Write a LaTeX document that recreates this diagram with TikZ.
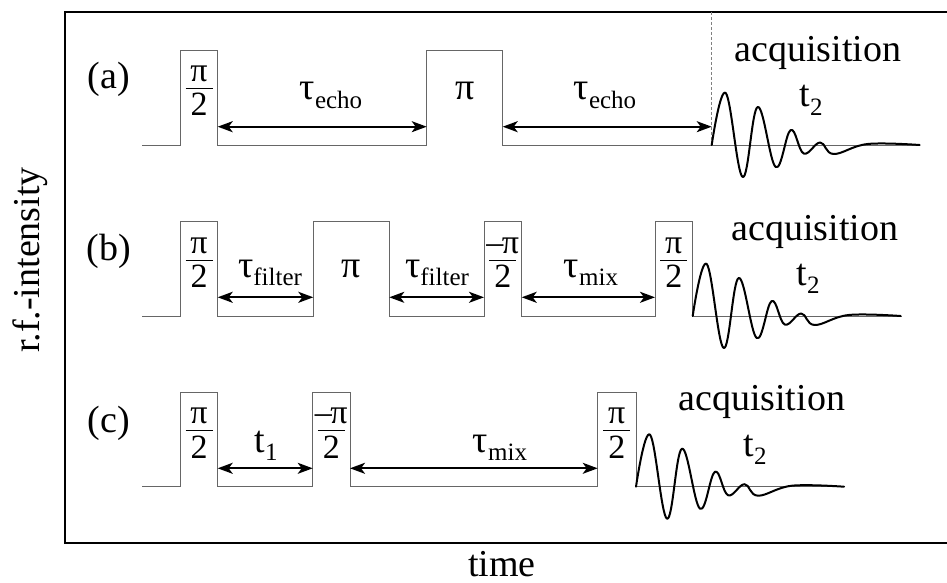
\documentclass[tikz,border=0pt]{standalone}
\usepackage{fontspec}
\setmainfont{Liberation Serif}
\usetikzlibrary{arrows.meta}
\tikzset{
  pulse/.style={draw=black!60, line width=0.9pt},
  dur/.style={{Stealth[length=15pt,width=11pt,inset=4pt]}-{Stealth[length=15pt,width=11pt,inset=4pt]}, line width=2pt},
  fid/.style={line width=2pt, line join=round, line cap=round},
  lbl/.style={font=\fontsize{38}{38}\selectfont, inner sep=0pt, anchor=base},
  fracl/.style={font=\fontsize{34}{34}\selectfont, inner sep=0pt, anchor=base},
  fbar/.style={line width=0.9pt},
  frame/.style={line width=2pt},
  fidpic/.pic={\draw[fid] plot[smooth,tension=0.65] coordinates {(0,0) (14,-52) (31,32) (46,-38) (64,22) (79,-15) (92,8.5) (108.5,-2.5) (122,9) (156,-1) (208,0)};}
}
% fraction: #1 name, #2 x centre, #3 pulse top y, #4 numerator
\newcommand\pfr[4]{%
  \node[fracl] (#1n) at (#2,#3+31.5) {#4};
  \node[fracl] (#1d) at (#2,#3+66) {2};
  \coordinate (#1l) at (#2-13.5,#3+38.3);
  \coordinate (#1r) at (#2+13.5,#3+38.3);
  \draw[fbar] (#1l) -- (#1r);}
\newcommand\sub[2]{#1\raisebox{-0.22em}{\fontsize{25}{25}\selectfont #2}}
\newcommand\mpi{\textendash\kern-1.5pt π}
\begin{document}
\begin{tikzpicture}[x=1pt,y=-1pt]
\useasboundingbox (0,0) rectangle (947,583);
% frame
\draw[frame] (947,12) -- (65,12) -- (65,543) -- (947,543);
\node[lbl, rotate=90, anchor=center] (ylab) at (30,260) {r.f.-intensity};
\node[lbl] (xlab) at (502,576) {time};

% ---------- row (a)
\draw[pulse] (142,145) -- (180,145) -- (180,50) -- (217.7,50) -- (217.7,145) -- (426.7,145) -- (426.7,50) -- (502.7,50) -- (502.7,145) -- (920,145);
\draw[draw=black!50, line width=0.8pt, dash pattern=on 3pt off 2pt] (711.7,12) -- (711.7,145);
\coordinate (a1) at (217.7,126.7);
\coordinate (a2) at (426.7,126.7);
\coordinate (a3) at (502.7,126.7);
\coordinate (a4) at (711.7,126.7);
\draw[dur] (a1) -- (a2);
\draw[dur] (a3) -- (a4);
\node[lbl] (la) at (109,89) {(a)};
\pfr{fa1}{199}{50}{π}
\node[lbl] (pa) at (464.7,100) {π};
\node[lbl] (ta1) at (331,100) {\sub{τ}{echo}};
\node[lbl] (ta2) at (605,100) {\sub{τ}{echo}};
\node[lbl] (aqa) at (818,62) {acquisition};
\node[lbl] (t2a) at (811,107) {\sub{t}{2}};
\pic at (711.7,145) {fidpic};

% ---------- row (b)
\draw[pulse] (142,316) -- (180,316) -- (180,221.7) -- (217.7,221.7) -- (217.7,316) -- (313.3,316) -- (313.3,221.7) -- (389.3,221.7) -- (389.3,316) -- (484,316) -- (484,221.7) -- (521.7,221.7) -- (521.7,316) -- (655,316) -- (655,221.7) -- (692.7,221.7) -- (692.7,316) -- (901.7,316);
\coordinate (b1) at (217.7,297.3);
\coordinate (b2) at (313.3,297.3);
\coordinate (b3) at (389.3,297.3);
\coordinate (b4) at (484,297.3);
\coordinate (b5) at (521.7,297.3);
\coordinate (b6) at (655,297.3);
\draw[dur] (b1) -- (b2);
\draw[dur] (b3) -- (b4);
\draw[dur] (b5) -- (b6);
\node[lbl] (lb) at (109,260.7) {(b)};
\pfr{fb1}{199}{221.7}{π}
\node[lbl] (pb) at (351.3,277) {π};
\pfr{fb2}{502.8}{221.7}{\mpi}
\pfr{fb3}{673.8}{221.7}{π}
\node[lbl] (tb1) at (270,277) {\sub{τ}{filter}};
\node[lbl] (tb2) at (437,277) {\sub{τ}{filter}};
\node[lbl] (tb3) at (591,277) {\sub{τ}{mix}};
\node[lbl] (aqb) at (815,240) {acquisition};
\node[lbl] (t2b) at (808,285) {\sub{t}{2}};
\pic at (692.7,316) {fidpic};

% ---------- row (c)
\draw[pulse] (142,486.7) -- (180,486.7) -- (180,392.3) -- (217.7,392.3) -- (217.7,486.7) -- (312.7,486.7) -- (312.7,392.3) -- (350,392.3) -- (350,486.7) -- (597.7,486.7) -- (597.7,392.3) -- (636,392.3) -- (636,486.7) -- (845,486.7);
\coordinate (c1) at (217.7,468.3);
\coordinate (c2) at (312.7,468.3);
\coordinate (c3) at (350,468.3);
\coordinate (c4) at (597.7,468.3);
\draw[dur] (c1) -- (c2);
\draw[dur] (c3) -- (c4);
\node[lbl] (lc) at (109,432) {(c)};
\pfr{fc1}{199}{392.3}{π}
\pfr{fc2}{331.3}{392.3}{\mpi}
\pfr{fc3}{616.8}{392.3}{π}
\node[lbl] (tc1) at (266,452) {\sub{t}{1}};
\node[lbl] (tc2) at (500,452) {\sub{τ}{mix}};
\node[lbl] (aqc) at (761.7,410) {acquisition};
\node[lbl] (t2c) at (755,456) {\sub{t}{2}};
\pic at (636,486.7) {fidpic};
\end{tikzpicture}
\end{document}
